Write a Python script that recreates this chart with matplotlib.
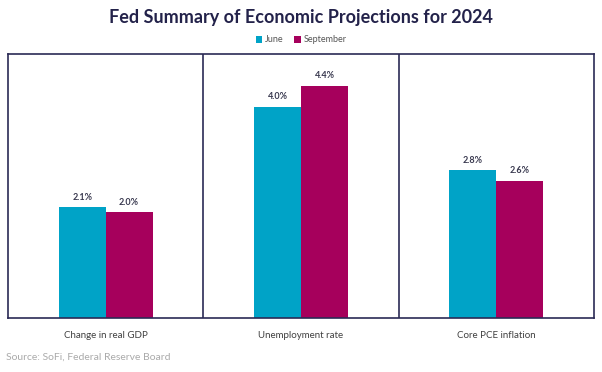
import matplotlib
matplotlib.use("Agg")
import matplotlib.pyplot as plt
import numpy as np

categories = ["Change in real GDP", "Unemployment rate", "Core PCE inflation"]
series_names = ["June", "September"]
june = [2.1, 4.0, 2.8]
september = [2.0, 4.4, 2.6]
labels_june = ["2.1%", "4.0%", "2.8%"]
labels_sept = ["2.0%", "4.4%", "2.6%"]

colors = ["#00A3C7", "#A6005C"]
navy = "#2B2A55"
plt.rcParams['font.family'] = ['Lato', 'DejaVu Sans']

fig = plt.figure(figsize=(6.02, 3.72), dpi=100)
ax = fig.add_axes([8/602, (372-318)/372, (594-8)/602, (318-54)/372])

x = np.arange(len(categories))
w = 0.24
b1 = ax.bar(x - w/2, june, w, color=colors[0], label=series_names[0])
b2 = ax.bar(x + w/2, september, w, color=colors[1], label=series_names[1])

for bars, labs in [(b1, labels_june), (b2, labels_sept)]:
    for r, l in zip(bars, labs):
        ax.annotate(l, (r.get_x() + r.get_width()/2, r.get_height()),
                    xytext=(0, 4), textcoords="offset points",
                    ha="center", va="bottom", fontsize=6.5,
                    fontweight="bold", color="#3a3a50")

ax.set_xlim(-0.5, len(categories) - 0.5)
ax.set_ylim(0, 5)
ax.set_yticks([])
ax.set_xticks(x)
ax.set_xticklabels(categories, fontsize=7, color="#404040")
ax.tick_params(axis="x", length=0, pad=9)
for i in range(1, len(categories)):
    ax.axvline(i - 0.5, color=navy, lw=1.2)
for s in ax.spines.values():
    s.set_color(navy)
    s.set_linewidth(1.2)

fig.text(0.5, 1 - 17/372, "Fed Summary of Economic Projections for 2024",
         ha="center", va="center", fontsize=13, fontweight="bold", color="#23224a")
leg = fig.legend(loc="center", bbox_to_anchor=(0.5, 1 - 40/372), ncol=2,
                 frameon=False, fontsize=6.5, handlelength=0.7, handleheight=0.7,
                 handletextpad=0.3, columnspacing=1.2, labelcolor="#555555")
fig.text(6/602, 1 - 357/372, "Source: SoFi, Federal Reserve Board",
         ha="left", va="center", fontsize=7.5, color="#aaaaaa")

fig.savefig("out.png", dpi=100)
